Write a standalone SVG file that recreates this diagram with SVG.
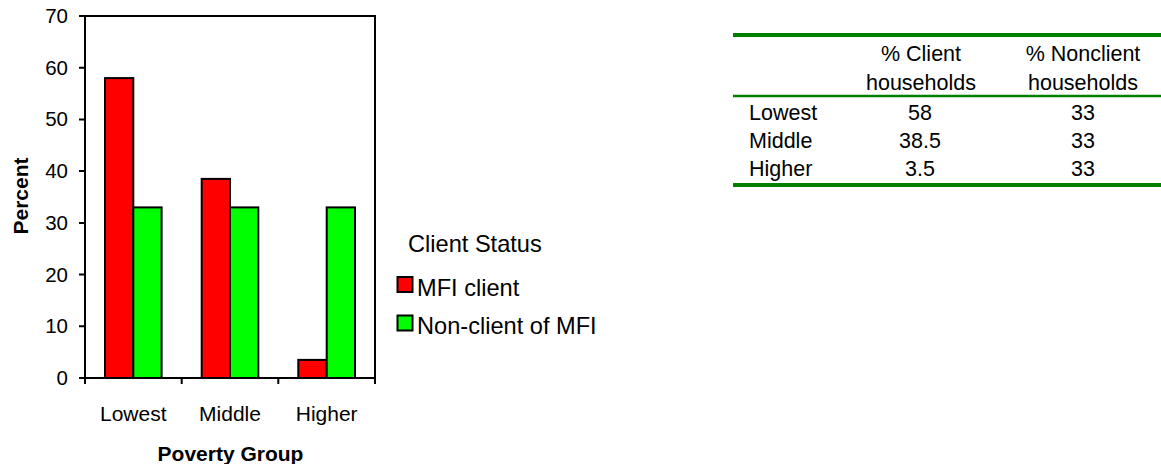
<svg xmlns="http://www.w3.org/2000/svg" width="1161" height="464" viewBox="0 0 1161 464">
<style>
text{font-family:"Liberation Sans",Arial,sans-serif;fill:#000}
.tick{font-size:20.5px;text-anchor:end}
.cat{font-size:21px;text-anchor:middle}
.ttl{font-size:21px;font-weight:bold;text-anchor:middle}
.leg{font-size:23.6px}
.tb{font-size:21.5px}
.c{text-anchor:middle}
.red{fill:#ff0000;stroke:#000;stroke-width:2}
.grn{fill:#00ff00;stroke:#000;stroke-width:2}
.ax{stroke:#000;stroke-width:2;fill:none}
.gl{stroke:#008000}
</style>
<g id="chart">
<rect class="ax" x="85" y="16" width="290" height="362" fill="#fff"/>
<g class="ax">
<path d="M79 378H85M79 326.3H85M79 274.6H85M79 222.9H85M79 171.1H85M79 119.4H85M79 67.7H85M79 16H85"/>
<path d="M85 378V384M181.7 378V384M278.3 378V384M375 378V384"/>
</g>
<g>
<text class="tick" x="68" y="385">0</text>
<text class="tick" x="68" y="333.3">10</text>
<text class="tick" x="68" y="281.6">20</text>
<text class="tick" x="68" y="229.9">30</text>
<text class="tick" x="68" y="178.1">40</text>
<text class="tick" x="68" y="126.4">50</text>
<text class="tick" x="68" y="74.7">60</text>
<text class="tick" x="68" y="23">70</text>
</g>
<g id="bars">
<rect class="red" x="105" y="78.1" width="28.3" height="299.9"/>
<rect class="grn" x="133.3" y="207.4" width="28.3" height="170.6"/>
<rect class="red" x="201.7" y="178.9" width="28.3" height="199.1"/>
<rect class="grn" x="230" y="207.4" width="28.3" height="170.6"/>
<rect class="red" x="298.3" y="359.9" width="28.3" height="18.1"/>
<rect class="grn" x="326.7" y="207.4" width="28.3" height="170.6"/>
</g>
<text class="cat" x="133.3" y="421">Lowest</text>
<text class="cat" x="230" y="421">Middle</text>
<text class="cat" x="326.7" y="421">Higher</text>
<text class="ttl" x="230.5" y="461">Poverty Group</text>
<text class="ttl" transform="translate(27.5,196) rotate(-90)">Percent</text>
</g>
<g id="legend">
<text class="leg" x="408" y="251.5">Client Status</text>
<rect class="red" x="397.5" y="277" width="15" height="15"/>
<text class="leg" x="417" y="296">MFI client</text>
<rect class="grn" x="397.5" y="315.5" width="15" height="15"/>
<text class="leg" x="417" y="333.5">Non-client of MFI</text>
</g>
<g id="table">
<path class="gl" d="M733 35H1161" stroke-width="4"/>
<path class="gl" d="M733 96H1161" stroke-width="2.5"/>
<path class="gl" d="M733 185H1161" stroke-width="4"/>
<text class="tb c" x="921" y="60.5">% Client</text>
<text class="tb c" x="921" y="89.5">households</text>
<text class="tb c" x="1083" y="60.5">% Nonclient</text>
<text class="tb c" x="1083" y="89.5">households</text>
<text class="tb" x="749" y="119.5">Lowest</text>
<text class="tb" x="749" y="147.5">Middle</text>
<text class="tb" x="749" y="175.5">Higher</text>
<text class="tb c" x="920" y="119.5">58</text>
<text class="tb c" x="920" y="147.5">38.5</text>
<text class="tb c" x="920" y="175.5">3.5</text>
<text class="tb c" x="1083" y="119.5">33</text>
<text class="tb c" x="1083" y="147.5">33</text>
<text class="tb c" x="1083" y="175.5">33</text>
</g>
</svg>
